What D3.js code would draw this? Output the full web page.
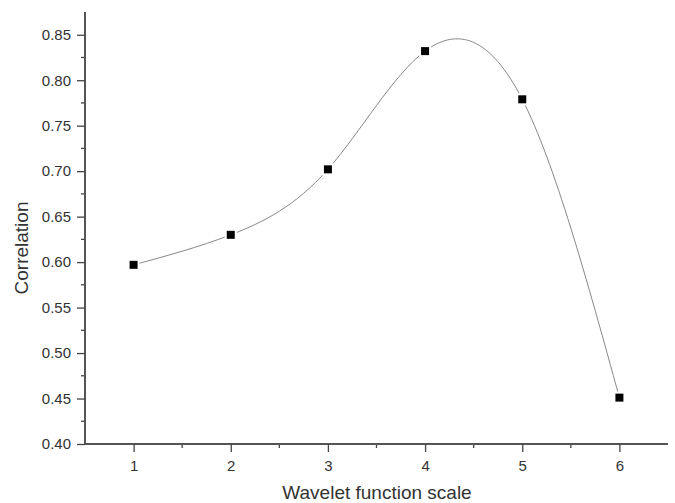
<!DOCTYPE html>
<html>
<head>
<meta charset="utf-8">
<script src="https://cdn.jsdelivr.net/npm/d3@7"></script>
<style>
  body { margin: 0; background: #fff; }
  text { font-family: "Liberation Sans", Arial, sans-serif; fill: #333; }
</style>
</head>
<body>
<div id="chart"></div>
<script>
// data
const scales = [1, 2, 3, 4, 5, 6];
const correlation = [0.597, 0.630, 0.702, 0.832, 0.779, 0.451];
const xTicks = [1, 2, 3, 4, 5, 6];
const yTicks = [0.40, 0.45, 0.50, 0.55, 0.60, 0.65, 0.70, 0.75, 0.80, 0.85];

const W = 675, H = 503;
const margin = { top: 12, right: 7, bottom: 59, left: 85 };
const width = W - margin.left - margin.right;
const height = H - margin.top - margin.bottom;

const svg = d3.select("#chart").append("svg")
  .attr("width", W).attr("height", H);
const g = svg.append("g")
  .attr("transform", `translate(${margin.left}, ${margin.top})`);

const x = d3.scaleLinear().domain([0.5, 6.5]).range([0, width]);
const y = d3.scaleLinear().domain([0.40, 0.875]).range([height, 0]);

// minor ticks
const xMinor = d3.range(1.5, 6.5, 1);
const yMinor = d3.range(0.425, 0.875, 0.05);

g.selectAll(".xminor").data(xMinor).join("line")
  .attr("x1", d => x(d)).attr("x2", d => x(d))
  .attr("y1", height).attr("y2", height + 4)
  .attr("stroke", "#444").attr("stroke-width", 1.3);
g.selectAll(".yminor").data(yMinor).join("line")
  .attr("x1", 0).attr("x2", -4)
  .attr("y1", d => y(d)).attr("y2", d => y(d))
  .attr("stroke", "#444").attr("stroke-width", 1.3);

const xAxis = d3.axisBottom(x).tickValues(xTicks).tickSize(8).tickPadding(8)
  .tickFormat(d3.format("d"));
const yAxis = d3.axisLeft(y).tickValues(yTicks).tickSize(8).tickPadding(6)
  .tickFormat(d3.format(".2f"));

const gx = g.append("g").attr("transform", `translate(0, ${height})`).call(xAxis);
const gy = g.append("g").call(yAxis);
[gx, gy].forEach(a => {
  a.select(".domain").attr("stroke", "#555").attr("stroke-width", 2);
  a.selectAll(".tick line").attr("stroke", "#444").attr("stroke-width", 1.3);
  a.selectAll(".tick text").style("font-size", "15px")
    .style("font-family", "Liberation Sans, Arial, sans-serif").attr("fill", "#333");
});
gx.select(".domain").attr("d", `M0,0H${width}`);
gy.select(".domain").attr("d", `M0,${height}V0`);

// smooth curve
const pts = scales.map((s, i) => [s, correlation[i]]);
const line = d3.line().x(d => x(d[0])).y(d => y(d[1])).curve(d3.curveNatural);
g.append("path").datum(pts)
  .attr("fill", "none").attr("stroke", "#888").attr("stroke-width", 1)
  .attr("d", line);

// markers (white halo leaves a small gap in the curve)
const ms = 10;
g.selectAll(".pt").data(pts).join("rect")
  .attr("x", d => x(d[0]) - ms / 2).attr("y", d => y(d[1]) - ms / 2)
  .attr("width", ms).attr("height", ms)
  .attr("fill", "#000").attr("stroke", "#fff").attr("stroke-width", 2);

// axis titles
svg.append("text")
  .attr("x", 377).attr("y", 499)
  .attr("text-anchor", "middle").style("font-size", "19px")
  .text("Wavelet function scale");
svg.append("text")
  .attr("transform", `translate(28, 248) rotate(-90)`)
  .attr("text-anchor", "middle").style("font-size", "19px")
  .text("Correlation");
</script>
</body>
</html>
